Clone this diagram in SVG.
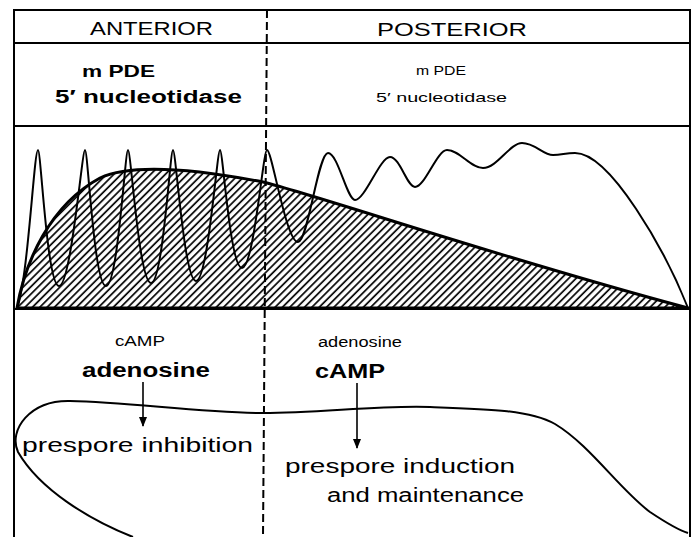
<svg xmlns="http://www.w3.org/2000/svg" width="695" height="537" viewBox="0 0 695 537">
<style>
.frame{fill:none;stroke:#000;stroke-width:2}
.dash{fill:none;stroke:#000;stroke-width:2;stroke-dasharray:8,4}
.curve{fill:none;stroke:#000;stroke-width:2;stroke-linejoin:round}
.env{fill:url(#hatch);stroke:#000;stroke-width:3;stroke-linejoin:round}
.t{font-family:"Liberation Sans",Arial,sans-serif;fill:#000}
.b{font-weight:bold}
.arrow{stroke:#000;stroke-width:1.6;fill:none;marker-end:url(#ah)}
</style>
<defs>
<pattern id="hatch" patternUnits="userSpaceOnUse" width="5.2" height="10" patternTransform="rotate(45)">
<line x1="1" y1="0" x2="1" y2="10" stroke="#000" stroke-width="1.7"/>
</pattern>
<marker id="ah" markerUnits="userSpaceOnUse" markerWidth="10" markerHeight="10" viewBox="0 0 10 10" refX="9" refY="5" orient="auto">
<path d="M0,1 L10,5 L0,9 Z" fill="#000"/>
</marker>
</defs>
<rect width="695" height="537" fill="#fff"/>
<g id="frame">
<path class="frame" d="M14,537 L14,10 L690,10 L690,537"/>
<line class="frame" x1="14" y1="43" x2="690" y2="43"/>
<line class="frame" x1="14" y1="126" x2="690" y2="126"/>
<line class="frame" x1="14" y1="309" x2="690" y2="309"/>
</g>
<g id="chart">
<path class="env" d="M17,308 C25,262 50,205 100,178 C130,164 190,168 263,182 C320,196 500,258 688,308 Z"/>
<path class="curve" d="M17,308 C28,280 34,150 38,150 C41,150 47,286 59,286 C71,286 82,150 85,150 C88,150 94,286 106,286 C118,286 125,150 128,150 C131,150 139,283 151,283 C163,283 170,150 173,150 C176,150 184,281 196,281 C208,281 217,150 220,150 C223,150 230,268 242,268 C254,268 263,150 267,150 C272,150 286,242 298,242 C308,242 318,153 328,153 C338,153 347,200 355,200 C365,200 380,157 390,157 C400,157 407,187 415,187 C425,187 437,150 447,150 C460,150 470,168 483,168 C497,168 510,143 522,143 C535,143 543,155 553,155 C562,155 565,153 575,153 C610,153 665,250 688,308"/>
</g>
<g id="region-curve">
<path class="curve" d="M133,537 C90,520 40,490 18,452 C8,430 30,400 70,401 C130,402 200,413 263,413 C320,413 380,405 430,407 C490,409 530,410 555,424 C590,445 620,490 650,512 C665,522 678,530 688,533"/>
</g>
<g id="divider">
<path class="dash" d="M267,10 L263,537"/>
</g>
<g id="anterior-header"><text class="t" x="90" y="35" font-size="18" textLength="123" lengthAdjust="spacingAndGlyphs">ANTERIOR</text></g>
<g id="posterior-header"><text class="t" x="377" y="36" font-size="18" textLength="150" lengthAdjust="spacingAndGlyphs">POSTERIOR</text></g>
<g id="anterior-enzymes">
<text class="t b" x="82" y="77" font-size="17" textLength="73" lengthAdjust="spacingAndGlyphs">m PDE</text>
<text class="t b" x="55" y="103" font-size="18" textLength="187" lengthAdjust="spacingAndGlyphs">5′ nucleotidase</text>
</g>
<g id="posterior-enzymes">
<text class="t" x="416" y="75" font-size="12.5" textLength="50" lengthAdjust="spacingAndGlyphs">m PDE</text>
<text class="t" x="376" y="102" font-size="13" textLength="131" lengthAdjust="spacingAndGlyphs">5′ nucleotidase</text>
</g>
<g id="anterior-signals">
<text class="t" x="115" y="346" font-size="15" textLength="50" lengthAdjust="spacingAndGlyphs">cAMP</text>
<text class="t b" x="82" y="377" font-size="20" textLength="128" lengthAdjust="spacingAndGlyphs">adenosine</text>
</g>
<g id="anterior-effect">
<text class="t" x="22" y="452" font-size="20" textLength="231" lengthAdjust="spacingAndGlyphs">prespore inhibition</text>
</g>
<g id="posterior-signals">
<text class="t" x="318" y="347" font-size="14" textLength="84" lengthAdjust="spacingAndGlyphs">adenosine</text>
<text class="t b" x="315" y="378" font-size="20" textLength="70" lengthAdjust="spacingAndGlyphs">cAMP</text>
</g>
<g id="posterior-effect">
<text class="t" x="285" y="473" font-size="20" textLength="230" lengthAdjust="spacingAndGlyphs">prespore induction</text>
<text class="t" x="327" y="502" font-size="20" textLength="197" lengthAdjust="spacingAndGlyphs">and maintenance</text>
</g>
<g id="connectors">
<line class="arrow" x1="143" y1="382" x2="143" y2="426"/>
<line class="arrow" x1="357" y1="383" x2="357" y2="448"/>
</g>
</svg>
